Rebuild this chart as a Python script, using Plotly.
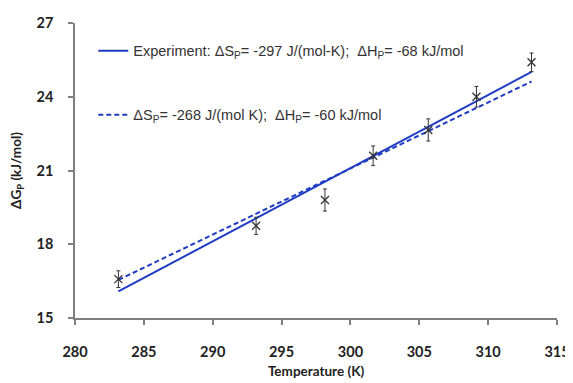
import plotly.graph_objects as go

temps = [283.15, 293.15, 298.15, 301.65, 305.65, 309.15, 313.15]
dG = [16.58, 18.75, 19.8, 21.6, 22.65, 24.0, 25.4]
dG_err = [0.34, 0.35, 0.45, 0.4, 0.45, 0.42, 0.38]

fit_T = [283.15, 313.15]
fit_exp = [16.08, 25.01]
fit_alt = [16.55, 24.62]

x_ticks = [280, 285, 290, 295, 300, 305, 310, 315]
y_ticks = [15, 18, 21, 24, 27]

blue = "#1f3cc4"
legend_font = dict(family="Liberation Sans, Arial, sans-serif", size=14.5, color="#333333")

fig = go.Figure()
fig.add_trace(go.Scatter(
    x=fit_T, y=fit_exp, mode="lines",
    line=dict(color=blue, width=2),
    name="Experiment: ΔS<sub>P</sub>= -297 J/(mol-K);  ΔH<sub>P</sub>= -68 kJ/mol",
    legend="legend"))
fig.add_trace(go.Scatter(
    x=fit_T, y=fit_alt, mode="lines",
    line=dict(color=blue, width=2, dash="5px,3px"),
    name="ΔS<sub>P</sub>= -268 J/(mol K);  ΔH<sub>P</sub>= -60 kJ/mol",
    legend="legend2"))
fig.add_trace(go.Scatter(
    x=temps, y=dG, mode="markers",
    marker=dict(symbol="x-thin", size=8, line=dict(color="#333333", width=1.3)),
    error_y=dict(type="data", array=dG_err, color="#333333", thickness=1, width=2),
    showlegend=False))

tick_font = dict(family="Lato, Open Sans, sans-serif", size=14.5, color="#222222", weight="bold")
title_font = dict(family="Lato, Open Sans, sans-serif", size=13.5, color="#222222", weight="bold")
fig.update_layout(
    width=565, height=375,
    margin=dict(l=66.5, r=15.5, t=15.3, b=64.7, autoexpand=False),
    paper_bgcolor="white", plot_bgcolor="white",
    showlegend=True,
    legend=dict(x=0.038, y=0.906, xanchor="left", yanchor="middle",
                bgcolor="rgba(0,0,0,0)", font=legend_font),
    legend2=dict(x=0.038, y=0.689, xanchor="left", yanchor="middle",
                 bgcolor="rgba(0,0,0,0)", font=legend_font),
)
fig.update_xaxes(
    range=[280, 315], tickvals=x_ticks, ticks="outside", ticklen=5, tickwidth=1.5,
    tickcolor="#7f7f7f", showline=True, linecolor="#7f7f7f", linewidth=1.5,
    showgrid=False, zeroline=False, tickfont=tick_font, ticklabelstandoff=15,
    automargin=False,
    title=dict(text="Temperature (K)", font=title_font, standoff=7))
fig.update_yaxes(
    range=[15, 27], tickvals=y_ticks, ticks="outside", ticklen=5, tickwidth=1.5,
    tickcolor="#7f7f7f", showline=True, linecolor="#7f7f7f", linewidth=1.5,
    showgrid=False, zeroline=False, tickfont=tick_font, ticklabelstandoff=12,
    automargin=False,
    title=dict(text="ΔG<sub>P</sub> (kJ/mol)", font=title_font, standoff=14))

fig.write_html("out.html")
